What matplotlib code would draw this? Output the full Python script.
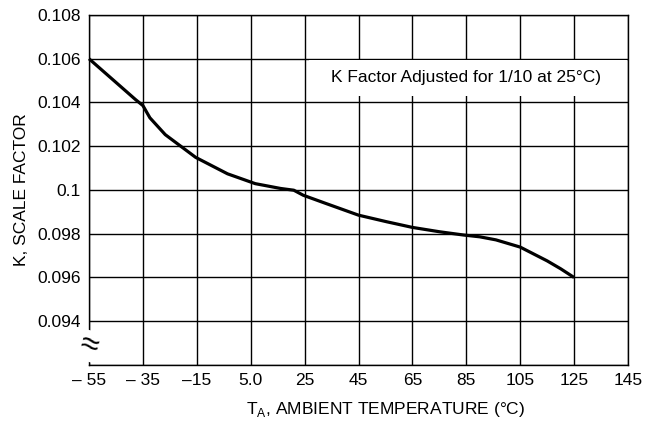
import matplotlib
matplotlib.use("Agg")
import matplotlib.pyplot as plt
from matplotlib.patches import Rectangle

plt.rcParams['font.family'] = ['Liberation Sans', 'DejaVu Sans']
plt.rcParams['mathtext.fontset'] = 'custom'
plt.rcParams['mathtext.rm'] = 'Liberation Sans'

# curve (temperature in C, K scale factor)
temp = [-55, -37.7, -35, -32.4, -26.7, -15.4, -3.6, 6.7, 16.1, 21, 24.5,
        33, 45, 55.4, 65, 75.1, 84.1, 90, 96, 105, 115, 120, 125]
kfactor = [0.1060, 0.10413, 0.10386, 0.1033, 0.10253, 0.10149, 0.10074, 0.10029,
           0.10007, 0.09999, 0.09976, 0.09938, 0.09885, 0.09855, 0.09829, 0.09809,
           0.09794, 0.09786, 0.09772, 0.09739, 0.09676, 0.0964, 0.0960]

xticks = [-55, -35, -15, 5, 25, 45, 65, 85, 105, 125, 145]
xticklabels = ['\u2013 55', '\u2013 35', '\u201315', '5.0', '25', '45', '65', '85', '105', '125', '145']
yticks = [0.092, 0.094, 0.096, 0.098, 0.100, 0.102, 0.104, 0.106, 0.108]
yticklabels = ['', '0.094', '0.096', '0.098', '0.1', '0.102', '0.104', '0.106', '0.108']

fig = plt.figure(figsize=(6.53, 4.23), dpi=100)
ax = fig.add_axes([89 / 653, 1 - 365 / 423, 539 / 653, 350 / 423])

ax.set_xlim(-55, 145)
ax.set_ylim(0.092, 0.108)
ax.set_xticks(xticks)
ax.set_xticklabels(xticklabels)
ax.set_yticks(yticks)
ax.set_yticklabels(yticklabels)
ax.tick_params(length=0, labelsize=12.5, pad=6)
ax.grid(True, color='black', linewidth=1.0)
ax.set_axisbelow(True)
for s in ax.spines.values():
    s.set_linewidth(1.0)

# white box behind the note
ax.add_patch(Rectangle((26.5, 0.1043), 118, 0.00165, facecolor='white',
                       edgecolor='none', zorder=1.5))
ax.text(85, 0.10515, 'K Factor Adjusted for 1/10 at 25\u00b0C)', fontsize=12.5,
        ha='center', va='center', zorder=3)

ax.plot(temp, kfactor, color='black', linewidth=2.3, zorder=4,
        solid_capstyle='butt', solid_joinstyle='round', clip_on=False)

# axis break mark
ax.text(-55, 0.09287, '\u2248', fontsize=24, ha='center', va='center',
        rotation=-15, clip_on=False, zorder=5,
        bbox=dict(facecolor='white', edgecolor='none', pad=0.0))

ax.set_xlabel('T$_\\mathregular{A}$, AMBIENT TEMPERATURE (\u00b0C)', fontsize=12.5,
              labelpad=4)
ax.xaxis.set_label_coords(0.55, -0.1)
ax.set_ylabel('K, SCALE FACTOR', fontsize=12.5, labelpad=6)

fig.savefig('out.png', dpi=100)
